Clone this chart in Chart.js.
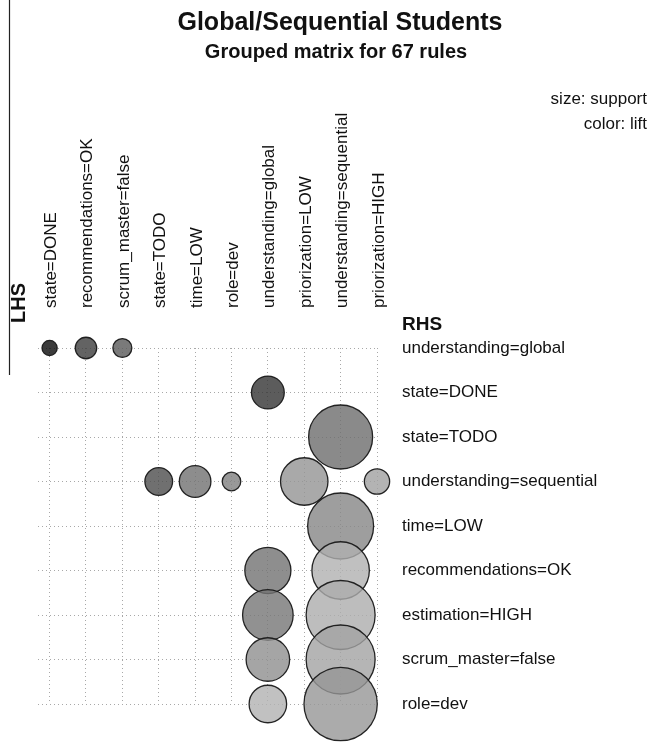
<!DOCTYPE html>
<html>
<head>
<meta charset="utf-8">
<script src="https://cdn.jsdelivr.net/npm/chart.js@4.4.1/dist/chart.umd.min.js"></script>
<style>
  html, body { margin: 0; padding: 0; background: #ffffff; }
  #wrap { width: 656px; height: 742px; }
</style>
</head>
<body>
<div id="wrap"><canvas id="c" width="656" height="742"></canvas></div>
<script>
// Antecedent groups (columns) and consequents (rows)
const lhsLabels = [
  'state=DONE', 'recommendations=OK', 'scrum_master=false', 'state=TODO',
  'time=LOW', 'role=dev', 'understanding=global', 'priorization=LOW',
  'understanding=sequential', 'priorization=HIGH'
];
const rhsLabels = [
  'understanding=global', 'state=DONE', 'state=TODO', 'understanding=sequential',
  'time=LOW', 'recommendations=OK', 'estimation=HIGH', 'scrum_master=false', 'role=dev'
];

// One entry per grouped rule: LHS group, RHS item, support, lift
const ruleLhs = [
  'state=DONE', 'recommendations=OK', 'scrum_master=false',
  'understanding=global',
  'understanding=sequential',
  'state=TODO', 'time=LOW', 'role=dev', 'priorization=LOW', 'priorization=HIGH',
  'understanding=sequential',
  'understanding=global', 'understanding=sequential',
  'understanding=global', 'understanding=sequential',
  'understanding=global', 'understanding=sequential',
  'understanding=global', 'understanding=sequential'
];
const ruleRhs = [
  'understanding=global', 'understanding=global', 'understanding=global',
  'state=DONE',
  'state=TODO',
  'understanding=sequential', 'understanding=sequential', 'understanding=sequential',
  'understanding=sequential', 'understanding=sequential',
  'time=LOW',
  'recommendations=OK', 'recommendations=OK',
  'estimation=HIGH', 'estimation=HIGH',
  'scrum_master=false', 'scrum_master=false',
  'role=dev', 'role=dev'
];
const support = [
  0.009, 0.018, 0.014,
  0.042,
  0.160,
  0.030, 0.039, 0.0135, 0.088, 0.025,
  0.170,
  0.083, 0.129,
  0.100, 0.186,
  0.074, 0.186,
  0.055, 0.210
];
const lift = [
  3.03, 2.46, 2.13,
  2.57,
  1.90,
  2.28, 1.86, 1.68, 1.46, 1.30,
  1.61,
  1.84, 1.12,
  1.80, 1.17,
  1.51, 1.28,
  1.09, 1.42
];

// size ~ sqrt(support) so that circle area follows support
function radiusFor(s) { return 80 * Math.sqrt(s); }
// grey level by lift: higher lift -> darker, translucent fill
const FILL_ALPHA = 0.8;
function colorFor(l) {
  const seen = 200 - (l - 1) * 69;
  const base = Math.max(0, Math.round((seen - 255 * (1 - FILL_ALPHA)) / FILL_ALPHA));
  return `rgba(${base},${base},${base},${FILL_ALPHA})`;
}

const points = support.map((s, i) => ({
  x: lhsLabels.indexOf(ruleLhs[i]) + 1,
  y: rhsLabels.indexOf(ruleRhs[i]) + 1,
  r: radiusFor(s)
}));

const FONT = '"Liberation Sans", Arial, Helvetica, sans-serif';

const textPlugin = {
  id: 'matrixText',
  afterDraw(chart) {
    const ctx = chart.ctx;
    const xs = chart.scales.x, ys = chart.scales.y;
    ctx.save();
    ctx.fillStyle = '#111111';

    // titles
    ctx.textAlign = 'center';
    ctx.textBaseline = 'alphabetic';
    ctx.font = `bold 25px ${FONT}`;
    ctx.fillText('Global/Sequential Students', 340, 30);
    ctx.font = `bold 20px ${FONT}`;
    ctx.fillText('Grouped matrix for 67 rules', 336, 58);

    // encoding legend
    ctx.textAlign = 'right';
    ctx.font = `17px ${FONT}`;
    ctx.fillText('size: support', 647, 104);
    ctx.fillText('color: lift', 647, 129);

    // LHS column labels, rotated
    ctx.font = `17px ${FONT}`;
    ctx.textAlign = 'left';
    lhsLabels.forEach((lab, i) => {
      const px = xs.getPixelForValue(i + 1) + 6.5;
      ctx.save();
      ctx.translate(px, 308);
      ctx.rotate(-Math.PI / 2);
      ctx.fillText(lab, 0, 0);
      ctx.restore();
    });

    // LHS heading with its rule
    ctx.font = `bold 20px ${FONT}`;
    ctx.save();
    ctx.translate(25, 323);
    ctx.rotate(-Math.PI / 2);
    ctx.fillText('LHS', 0, 0);
    ctx.restore();
    ctx.strokeStyle = '#222222';
    ctx.lineWidth = 1.2;
    ctx.beginPath();
    ctx.moveTo(9.5, 0);
    ctx.lineTo(9.5, 375);
    ctx.stroke();

    // RHS heading and row labels
    ctx.textAlign = 'left';
    ctx.font = `bold 19px ${FONT}`;
    ctx.fillText('RHS', 402, 330);
    ctx.font = `17px ${FONT}`;
    ctx.textBaseline = 'middle';
    rhsLabels.forEach((lab, i) => {
      ctx.fillText(lab, 402, ys.getPixelForValue(i + 1));
    });
    ctx.restore();
  }
};

const gridOpts = { color: '#a8a8a8', lineWidth: 1, drawTicks: false };
const borderOpts = { display: false, dash: [1, 3] };

new Chart(document.getElementById('c'), {
  type: 'bubble',
  data: {
    datasets: [{
      data: points,
      backgroundColor: lift.map(colorFor),
      borderColor: 'rgba(25,25,25,0.95)',
      borderWidth: 1.3,
      clip: false
    }]
  },
  options: {
    responsive: false,
    animation: false,
    events: [],
    devicePixelRatio: 1,
    layout: { padding: { left: 35, right: 279, top: 348, bottom: 38 } },
    plugins: { legend: { display: false }, tooltip: { enabled: false } },
    scales: {
      x: {
        type: 'linear', position: 'top', min: 0.68, max: 10,
        grid: gridOpts, border: borderOpts,
        ticks: { display: false },
        afterBuildTicks: (s) => { s.ticks = lhsLabels.map((_, i) => ({ value: i + 1 })); }
      },
      y: {
        type: 'linear', reverse: true, min: 1, max: 9,
        grid: gridOpts, border: borderOpts,
        ticks: { display: false },
        afterBuildTicks: (s) => { s.ticks = rhsLabels.map((_, i) => ({ value: i + 1 })); }
      }
    }
  },
  plugins: [textPlugin]
});
</script>
</body>
</html>
